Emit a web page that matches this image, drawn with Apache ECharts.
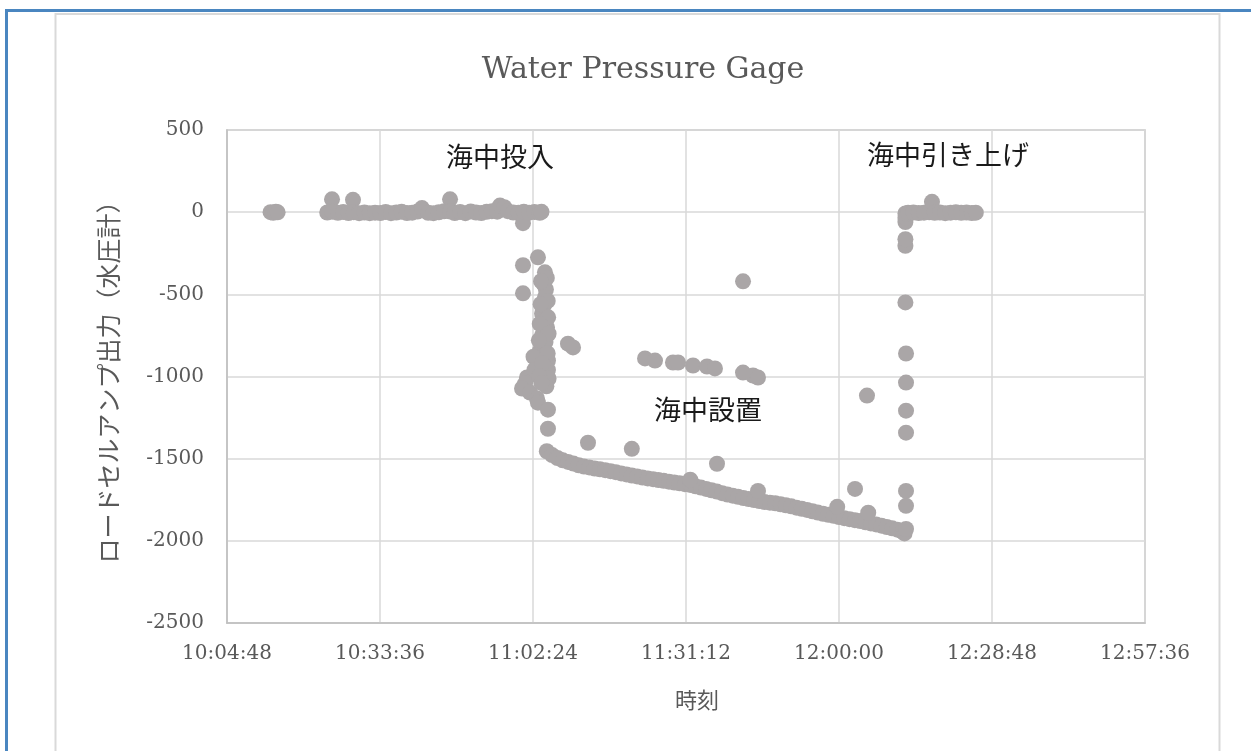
<!DOCTYPE html>
<html>
<head>
<meta charset="utf-8">
<script src="https://cdn.jsdelivr.net/npm/echarts@6/dist/echarts.min.js"></script>
<style>
html,body{margin:0;padding:0;background:#fff;}
#chart{width:1251px;height:751px;}
</style>
</head>
<body>
<div id="chart"></div>
<script>
// ---- data (time of day, load-cell amp output) ----
const xTickLabels = ['10:04:48','10:33:36','11:02:24','11:31:12','12:00:00','12:28:48','12:57:36'];
const yTickLabels = [500, 0, -500, -1000, -1500, -2000, -2500];

const preTimes  = ['10:13:00','10:13:30','10:14:00','10:14:20'];
const preValues = [0, -4, 3, -1];

const surfaceTimes = ['10:23:40','10:24:34','10:24:40','10:25:40','10:26:40','10:27:40','10:28:31','10:28:40','10:29:40','10:30:40',
  '10:31:40','10:32:40','10:33:40','10:34:40','10:35:40','10:36:40','10:37:40','10:38:40','10:39:40','10:40:40',
  '10:41:30','10:42:40','10:43:40','10:44:40','10:45:40','10:46:47','10:46:50','10:47:40','10:48:40','10:49:40',
  '10:50:40','10:51:40','10:52:40','10:53:40','10:54:40','10:55:40','10:56:11','10:57:00','10:57:40','10:58:40',
  '10:59:40','11:00:31','11:00:40','11:01:40','11:02:40','11:03:40','11:04:00'];
const surfaceValues = [-2, 78, 2, -4, 1, -5, 75, 0, -6, -2,
  -6, -3, -5, 1, -6, -2, 2, -5, -3, 4,
  25, -4, -6, -1, 5, 78, 4, -5, 1, -6,
  4, -2, -5, 2, 6, 3, 40, 30, 6, -2,
  -4, -67, 3, -3, 1, -4, 2];

const descentTimes = ['11:00:31','11:00:31','11:03:20','11:04:39','11:04:17','11:04:50','11:04:39','11:04:30','11:04:06','11:04:40',
  '11:05:02','11:04:06','11:04:45','11:04:20','11:03:43','11:04:30','11:03:09','11:05:13','11:03:20','11:05:13',
  '11:05:20','11:01:16','11:00:54','11:00:20','11:01:50','11:03:09','11:03:20','11:02:30','11:02:40','11:05:13',
  '11:05:13','11:08:59','11:09:56',
  '11:05:00','11:03:55','11:05:10','11:03:50','11:05:15','11:03:40','11:05:20','11:03:30','11:05:10','11:04:10',
  '11:04:55','11:03:35','11:04:00'];
const descentValues = [-323, -494, -275, -366, -433, -470, -518, -565, -616, -660,
  -701, -750, -790, -810, -842, -870, -903, -903, -933, -960,
  -1012, -1006, -1043, -1073, -1098, -1134, -1159, -880, -960, -1202,
  -1318, -800, -823,
  -400, -420, -540, -560, -640, -680, -740, -780, -860, -920,
  -1060, -1000, -1040];

const bottomTimes = ['11:05:00','11:06:00','11:07:00','11:08:00','11:09:00','11:10:00','11:11:00','11:12:00','11:13:00','11:14:00',
  '11:15:00','11:16:00','11:17:00','11:18:00','11:19:00','11:20:00','11:21:00','11:22:00','11:23:00','11:24:00',
  '11:25:00','11:26:00','11:27:00','11:28:00','11:29:00','11:30:00','11:31:00','11:32:00','11:33:00','11:34:00',
  '11:35:00','11:36:00','11:37:00','11:38:00','11:39:00','11:40:00','11:41:00','11:42:00','11:43:00','11:44:00',
  '11:45:00','11:46:00','11:47:00','11:48:00','11:49:00','11:50:00','11:51:00','11:52:00','11:53:00','11:54:00',
  '11:55:00','11:56:00','11:57:00','11:58:00','11:59:00','12:00:00','12:01:00','12:02:00','12:03:00','12:04:00',
  '12:05:00','12:06:00','12:07:00','12:08:00','12:09:00','12:10:00','12:11:00','12:12:00','12:12:20'];
const bottomValues = [-1455, -1478, -1496, -1510, -1520, -1530, -1540, -1548, -1553, -1560,
  -1565, -1570, -1576, -1582, -1590, -1596, -1603, -1608, -1615, -1620,
  -1625, -1630, -1635, -1640, -1645, -1650, -1655, -1660, -1668, -1676,
  -1684, -1692, -1700, -1710, -1718, -1725, -1732, -1740, -1746, -1752,
  -1758, -1764, -1768, -1772, -1778, -1784, -1790, -1798, -1805, -1812,
  -1820, -1828, -1835, -1842, -1848, -1855, -1862, -1868, -1874, -1880,
  -1887, -1894, -1900, -1908, -1916, -1924, -1932, -1945, -1955];

const strayTimes = ['11:12:45','11:21:00','11:37:02','11:41:56','11:23:29','11:25:22','11:28:45','11:29:42','11:32:31','11:35:09',
  '11:36:39','11:41:56','11:43:49','11:44:45','12:03:01','12:05:16','11:32:00','11:44:45','11:59:40','12:05:30'];
const strayValues = [-1403, -1440, -1531, -421, -890, -903, -915, -915, -933, -939,
  -951, -976, -994, -1006, -1684, -1116, -1628, -1696, -1793, -1829];

const riseTimes = ['12:12:37','12:12:37','12:12:37','12:12:37','12:12:37','12:12:37','12:12:37','12:12:30','12:12:30','12:12:30',
  '12:12:30','12:12:30','12:12:30'];
const riseValues = [-1928, -1787, -1696, -1342, -1208, -1037, -860, -549, -205, -165,
  -60, -35, -8];

const recoveredTimes = ['12:13:00','12:14:00','12:15:00','12:16:00','12:17:00','12:17:30','12:18:00','12:19:00','12:20:00','12:21:00',
  '12:22:00','12:23:00','12:24:00','12:25:00','12:25:45'];
const recoveredValues = [-4, -2, -5, -3, -1, 63, -4, -2, -6, -3, -1, -4, -2, -5, -3];

const annotations = [
  {text: '海中投入', x: 500, y: 157},
  {text: '海中引き上げ', x: 948, y: 155},
  {text: '海中設置', x: 708, y: 410}
];

// ---- helpers ----
function toSec(s) {
  const p = s.split(':').map(Number);
  return p[0] * 3600 + p[1] * 60 + (p[2] || 0);
}
function fmt(v) {
  const h = Math.floor(v / 3600), m = Math.floor((v % 3600) / 60), s = Math.round(v % 60);
  const pad = n => (n < 10 ? '0' : '') + n;
  return h + ':' + pad(m) + ':' + pad(s);
}
const points = [];
[[preTimes, preValues], [surfaceTimes, surfaceValues], [descentTimes, descentValues],
 [bottomTimes, bottomValues], [strayTimes, strayValues], [riseTimes, riseValues],
 [recoveredTimes, recoveredValues]].forEach(([t, v]) => {
  t.forEach((tt, i) => points.push([toSec(tt), v[i]]));
});

const xMin = toSec(xTickLabels[0]);
const xMax = toSec(xTickLabels[xTickLabels.length - 1]);
const xStep = toSec(xTickLabels[1]) - xMin;

const serif = '"DejaVu Serif", "Liberation Serif", serif';
const jp = '"Noto Sans CJK JP", sans-serif';

const chart = echarts.init(document.getElementById('chart'), null, {renderer: 'canvas'});
chart.setOption({
  animation: false,
  backgroundColor: '#ffffff',
  title: {
    text: 'Water Pressure Gage',
    left: 638, top: 50, textAlign: 'center',
    textStyle: {fontFamily: serif, fontSize: 30, fontWeight: 'normal', color: '#595959'}
  },
  grid: {left: 227, right: 106, top: 130, bottom: 128, show: true,
    borderColor: '#bfbfbf', borderWidth: 1.5, backgroundColor: 'transparent'},
  xAxis: {
    type: 'value', min: xMin, max: xMax, interval: xStep,
    axisLine: {show: true, onZero: false, lineStyle: {color: '#bfbfbf', width: 1.5}},
    axisTick: {show: false},
    splitLine: {show: true, lineStyle: {color: '#d9d9d9', width: 1.5}},
    axisLabel: {formatter: fmt, margin: 21, color: '#595959', fontFamily: serif, fontSize: 20}
  },
  yAxis: {
    type: 'value', min: yTickLabels[yTickLabels.length - 1], max: yTickLabels[0],
    interval: yTickLabels[0] - yTickLabels[1],
    axisLine: {show: true, onZero: false, lineStyle: {color: '#bfbfbf', width: 1.5}},
    axisTick: {show: false},
    splitLine: {show: true, lineStyle: {color: '#d9d9d9', width: 1.5}},
    axisLabel: {margin: 23, color: '#595959', fontFamily: serif, fontSize: 20,
      formatter: v => String(v)}
  },
  series: [{
    type: 'scatter',
    data: points,
    symbol: 'circle',
    symbolSize: 16,
    itemStyle: {color: '#aaa6a7', opacity: 1},
    z: 3
  }],
  graphic: [
    {type: 'rect', shape: {x: 5, y: 9, width: 3, height: 742}, style: {fill: '#4a86c0'}, silent: true},
    {type: 'rect', shape: {x: 5, y: 9, width: 1246, height: 3}, style: {fill: '#4a86c0'}, silent: true},
    {type: 'rect', shape: {x: 55.5, y: 14, width: 1164, height: 800},
      style: {fill: 'none', stroke: '#d9d9d9', lineWidth: 2}, silent: true},
    {type: 'text', x: 108, y: 376, rotation: Math.PI / 2,
      style: {text: 'ロードセルアンプ出力（水圧計）', fill: '#595959', font: '25px ' + jp,
        align: 'center', verticalAlign: 'middle', textAlign: 'center', textVerticalAlign: 'middle'}},
    {type: 'text', x: 697, y: 700,
      style: {text: '時刻', fill: '#595959', font: '22px ' + jp,
        align: 'center', verticalAlign: 'middle', textAlign: 'center', textVerticalAlign: 'middle'}}
  ].concat(annotations.map(a => ({
    type: 'text', x: a.x, y: a.y, z: 10,
    style: {text: a.text, fill: '#1a1a1a', font: '27px ' + jp,
      align: 'center', verticalAlign: 'middle', textAlign: 'center', textVerticalAlign: 'middle'}
  })))
});
</script>
</body>
</html>
